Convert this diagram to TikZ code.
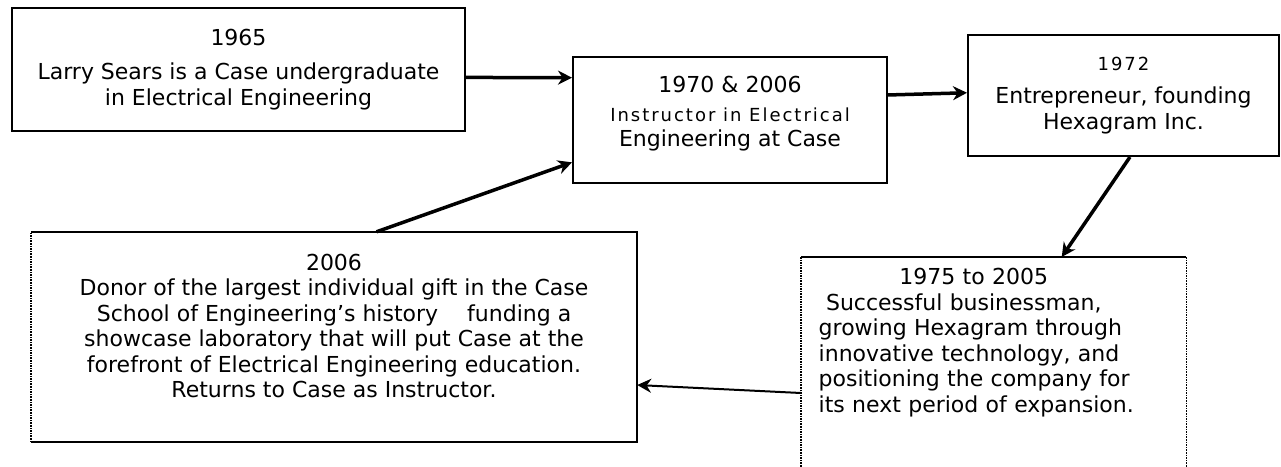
\documentclass[tikz,border=0pt]{standalone}
\usepackage{fontspec}
\setmainfont{DejaVu Sans}
\newfontfamily\smallfont[LetterSpace=11]{DejaVu Sans}
\usetikzlibrary{arrows.meta}

\begin{document}
\begin{tikzpicture}[x=1pt, y=-1pt,
  box/.style={inner sep=0pt, align=center, font=\fontsize{22}{25.5}\selectfont},
  boxline/.style={line width=2pt},
  edgedot/.style={line width=1.6pt, densely dotted},
  conn/.style={line width=3.5pt, -{Stealth[length=14pt, width=14pt]}}]

\useasboundingbox (0,0) rectangle (1281,466);
\coordinate (bottom) at (0,470);

\node[box, draw, boxline, minimum width=453pt, minimum height=123pt] (sears) at (238.5,69.5)
  {1965\\[9pt] Larry Sears is a Case undergraduate\\ in Electrical Engineering};
\node[box, draw, boxline, minimum width=314pt, minimum height=126pt, text depth=17pt] (instr) at (730,120)
  {1970 \& 2006\\[3pt] {\smallfont\fontsize{18}{25.5}\selectfont Instructor in Electrical}\\ Engineering at Case};
\node[box, draw, boxline, minimum width=311pt, minimum height=121pt] (hexa) at (1123.5,95.5)
  {{\smallfont\fontsize{18}{25.5}\selectfont 1972}\\[8pt] Entrepreneur, founding\\ Hexagram Inc.};

% 2006 box, left side dotted
\node[box, minimum width=606pt, minimum height=210pt, text depth=22pt] (donor) at (334,337)
  {2006\\ Donor of the largest individual gift in the Case\\
   School of Engineering's history\quad\ funding a\\
   showcase laboratory that will put Case at the\\
   forefront of Electrical Engineering education.\\
   Returns to Case as Instructor.};
\draw[boxline] (donor.north west) -- (donor.north east) -- (donor.south east) -- (donor.south west);
\draw[edgedot] (donor.south west) -- (donor.north west);

% 1975 to 2005 box, runs off the bottom
\node[box, anchor=north west, minimum width=385pt, text width=350pt, align=left, inner ysep=11pt] (biz) at (801,257)
  {\makebox[310pt]{1975 to 2005}\\
   \ Successful businessman,\\
   growing Hexagram through\\
   innovative technology, and\\
   positioning the company for\\
   its next period of expansion.};
\draw[boxline] (biz.north west) -- (biz.north east);
\draw[edgedot] (biz.north west) -- (biz.north west |- bottom);
\draw[edgedot] (biz.north east) -- (biz.north east |- bottom);

\draw[conn] (sears.-2) -- (instr.165);
\draw[conn] (instr.9) -- (hexa.179);
\draw[conn] (hexa.-84) -- ([xshift=68pt]biz.north);
\draw[conn, line width=2pt] ([yshift=-136pt]biz.north west) -- (donor.-9);
\draw[conn] (donor.68) -- (instr.195);

\end{tikzpicture}
\end{document}
